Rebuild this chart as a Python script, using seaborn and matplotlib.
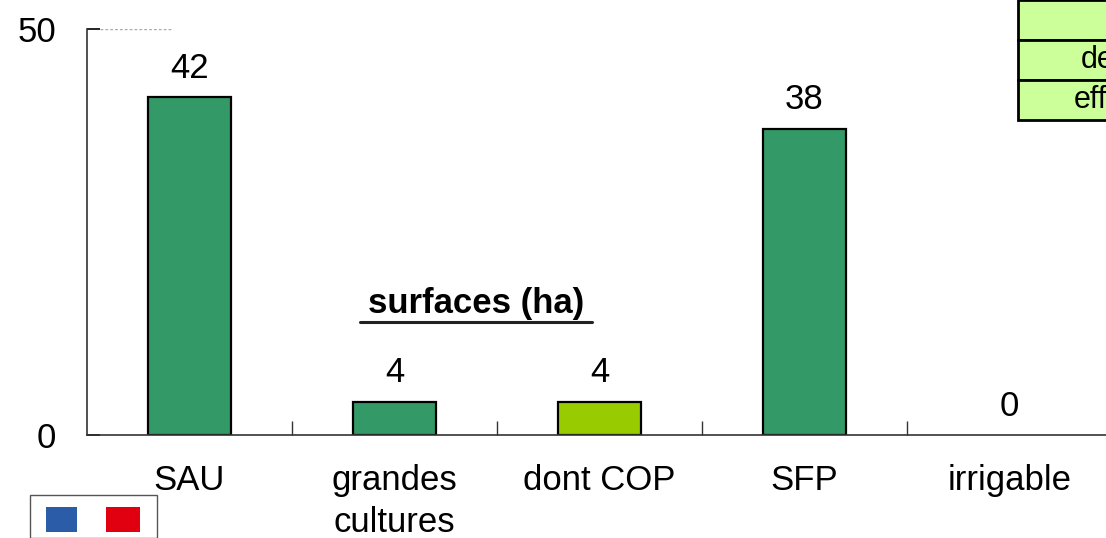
import matplotlib.pyplot as plt
import matplotlib.patches as mpatches
from matplotlib.lines import Line2D
import seaborn as sns
import pandas as pd

categories = ['SAU', 'grandes\ncultures', 'dont COP', 'SFP', 'irrigable']
values = [41.6, 4.1, 4.1, 37.7, 0.0]
labels = ['42', '4', '4', '38', '0']
bar_colors = ['#339966', '#339966', '#99cc00', '#339966', '#339966']
yticks = [0, 50]

df = pd.DataFrame({'cat': categories, 'val': values})

sns.set_theme(style='white')
plt.rcParams['font.family'] = ['Liberation Sans', 'DejaVu Sans']
plt.rcParams['text.color'] = 'black'
plt.rcParams['xtick.color'] = 'black'
plt.rcParams['ytick.color'] = 'black'

fig = plt.figure(figsize=(11.06, 5.38), dpi=100)
# axes run past the right edge of the figure, like the cropped original
ax = fig.add_axes([87 / 1106, 103 / 538, 1025 / 1106, 406 / 538])

sns.barplot(data=df, x='cat', y='val', hue='cat', palette=dict(zip(categories, bar_colors)),
            legend=False, width=0.405, edgecolor='black', linewidth=1.6, ax=ax, saturation=1)
for p in ax.patches:
    if p.get_height() == 0:
        p.set_linewidth(0)

ax.set_ylim(0, 50)
ax.set_xlim(-0.5, 4.5)
ax.set_yticks(yticks)
ax.set_xlabel('')
ax.set_ylabel('')
for s in ['top', 'right']:
    ax.spines[s].set_visible(False)
for s in ['left', 'bottom']:
    ax.spines[s].set_color('#333333')
    ax.spines[s].set_linewidth(1.2)

ax.tick_params(axis='y', direction='in', length=9, width=1.2, pad=22, labelsize=25, left=True)
ax.tick_params(axis='x', which='major', length=0, pad=21, labelsize=25)
ax.set_xticks([0.5, 1.5, 2.5, 3.5], minor=True)
ax.tick_params(axis='x', which='minor', direction='in', length=10, width=1, bottom=True, color='#333333')
for t in ax.get_xticklabels():
    t.set_linespacing(1.35)

ax.axhline(50, xmin=0.013, xmax=0.083, color='#aaaaaa', linestyle=(0, (2, 1.5)), linewidth=1)

for i, c in enumerate(ax.containers):
    ax.bar_label(c, labels=[labels[i]], padding=9, fontsize=25)

fig.text(476 / 1106, 1 - 303 / 538, 'surfaces (ha)', fontsize=25, fontweight='bold',
         ha='center', va='center')
fig.add_artist(Line2D([360 / 1106, 592 / 1106], [1 - 322 / 538] * 2, color='#222222', linewidth=2.2))

# table fragment in top right corner
for y0, y1 in [(0, 40), (40, 80), (80, 120)]:
    fig.add_artist(mpatches.Rectangle((1018 / 1106, 1 - y1 / 538), 200 / 1106, (y1 - y0) / 538,
                                      facecolor='#ccff99', edgecolor='black', linewidth=2))
for y, txt, x in [(60, 'de', 1081), (100, 'eff', 1074)]:
    fig.text(x / 1106, 1 - y / 538, txt, fontsize=22, ha='left', va='center')

# logo fragment in bottom left corner
fig.add_artist(mpatches.Rectangle((30 / 1106, 0), 127 / 1106, 43 / 538,
                                  facecolor='white', edgecolor='#555555', linewidth=1))
fig.add_artist(mpatches.Rectangle((46 / 1106, 1 - 532 / 538), 31 / 1106, 25 / 538,
                                  facecolor='#2b5ca8', edgecolor='none'))
fig.add_artist(mpatches.Rectangle((106 / 1106, 1 - 532 / 538), 34 / 1106, 25 / 538,
                                  facecolor='#e1000f', edgecolor='none'))

fig.savefig('out.png', dpi=100)
